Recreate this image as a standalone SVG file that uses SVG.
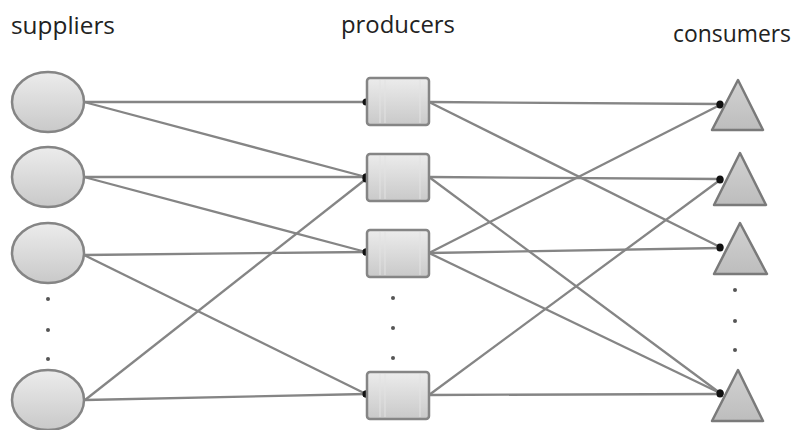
<svg xmlns="http://www.w3.org/2000/svg" width="798" height="430" viewBox="0 0 798 430">
<defs>
<linearGradient id="g" x1="0" y1="0" x2="0" y2="1">
<stop offset="0" stop-color="#ececec"/>
<stop offset="1" stop-color="#c9c9c9"/>
</linearGradient>
<linearGradient id="gt" x1="0" y1="0" x2="0" y2="1">
<stop offset="0" stop-color="#d2d2d2"/>
<stop offset="1" stop-color="#bdbdbd"/>
</linearGradient>
<marker id="dot" markerUnits="userSpaceOnUse" markerWidth="10" markerHeight="10" refX="5" refY="5" viewBox="0 0 10 10">
<circle cx="5" cy="5" r="3.5" fill="#111"/>
</marker>
</defs>
<style>
.lbl{font-family:"Open Sans","Liberation Sans",sans-serif;font-size:24px;fill:#222}
.sup{fill:url(#g);stroke:#858585;stroke-width:2.5}
.pro{fill:url(#g);stroke:#858585;stroke-width:2.5}
.con{fill:url(#gt);stroke:#7a7a7a;stroke-width:2.5;stroke-linejoin:round}
.inner{stroke:#e2e2e2;stroke-width:1;fill:none}
.edge{stroke:#858585;stroke-width:2.3;fill:none;marker-end:url(#dot)}
.ell{fill:#555}
</style>
<rect width="798" height="430" fill="#fff"/>
<g id="labels">
<text class="lbl" x="11" y="34" textLength="104" lengthAdjust="spacingAndGlyphs">suppliers</text>
<text class="lbl" x="341" y="33" textLength="114" lengthAdjust="spacingAndGlyphs">producers</text>
<text class="lbl" x="673" y="42" textLength="118" lengthAdjust="spacingAndGlyphs">consumers</text>
</g>
<g id="connectors">
<line class="edge" x1="84" y1="102" x2="366" y2="102"/>
<line class="edge" x1="84" y1="102" x2="366" y2="177"/>
<line class="edge" x1="84" y1="177" x2="366" y2="177"/>
<line class="edge" x1="84" y1="177" x2="366" y2="252"/>
<line class="edge" x1="84" y1="255" x2="366" y2="252"/>
<line class="edge" x1="84" y1="255" x2="366" y2="394"/>
<line class="edge" x1="85" y1="400" x2="366" y2="179"/>
<line class="edge" x1="85" y1="400" x2="366" y2="394"/>
<line class="edge" x1="429" y1="102" x2="720" y2="104"/>
<line class="edge" x1="429" y1="102" x2="720" y2="247"/>
<line class="edge" x1="429" y1="177" x2="720" y2="179"/>
<line class="edge" x1="429" y1="177" x2="720" y2="393"/>
<line class="edge" x1="429" y1="253" x2="720" y2="105"/>
<line class="edge" x1="429" y1="253" x2="720" y2="248"/>
<line class="edge" x1="429" y1="253" x2="720" y2="393"/>
<line class="edge" x1="429" y1="395" x2="720" y2="180"/>
<line class="edge" x1="429" y1="395" x2="720" y2="394"/>
</g>
<g id="s1"><ellipse class="sup" cx="48" cy="102" rx="36" ry="30"/></g>
<g id="s2"><ellipse class="sup" cx="48" cy="177" rx="36" ry="30"/></g>
<g id="s3"><ellipse class="sup" cx="48" cy="253" rx="36" ry="30"/></g>
<g id="s4"><ellipse class="sup" cx="48" cy="400" rx="36" ry="30"/></g>
<g id="s-more"><circle class="ell" cx="48" cy="299" r="2"/><circle class="ell" cx="48" cy="330" r="2"/><circle class="ell" cx="48" cy="359" r="2"/></g>
<g id="p1"><rect class="pro" x="367" y="78" width="62" height="47" rx="3"/><path class="inner" d="M380 80V123M385 80V123M420 80V123"/></g>
<g id="p2"><rect class="pro" x="367" y="154" width="62" height="47" rx="3"/><path class="inner" d="M380 156V199M385 156V199M420 156V199"/></g>
<g id="p3"><rect class="pro" x="367" y="230" width="62" height="47" rx="3"/><path class="inner" d="M380 232V275M385 232V275M420 232V275"/></g>
<g id="p4"><rect class="pro" x="367" y="372" width="62" height="47" rx="3"/><path class="inner" d="M380 374V417M385 374V417M420 374V417"/></g>
<g id="p-more"><circle class="ell" cx="393" cy="298" r="2"/><circle class="ell" cx="393" cy="328" r="2"/><circle class="ell" cx="393" cy="358" r="2"/></g>
<g id="c1"><polygon class="con" points="738,80 763,130 712,130"/></g>
<g id="c2"><polygon class="con" points="740,153 766,205 714,205"/></g>
<g id="c3"><polygon class="con" points="740,223 767,274 714,274"/></g>
<g id="c4"><polygon class="con" points="738,370 763,421 712,421"/></g>
<g id="c-more"><circle class="ell" cx="735" cy="290" r="2"/><circle class="ell" cx="735" cy="321" r="2"/><circle class="ell" cx="735" cy="350" r="2"/></g>
</svg>
